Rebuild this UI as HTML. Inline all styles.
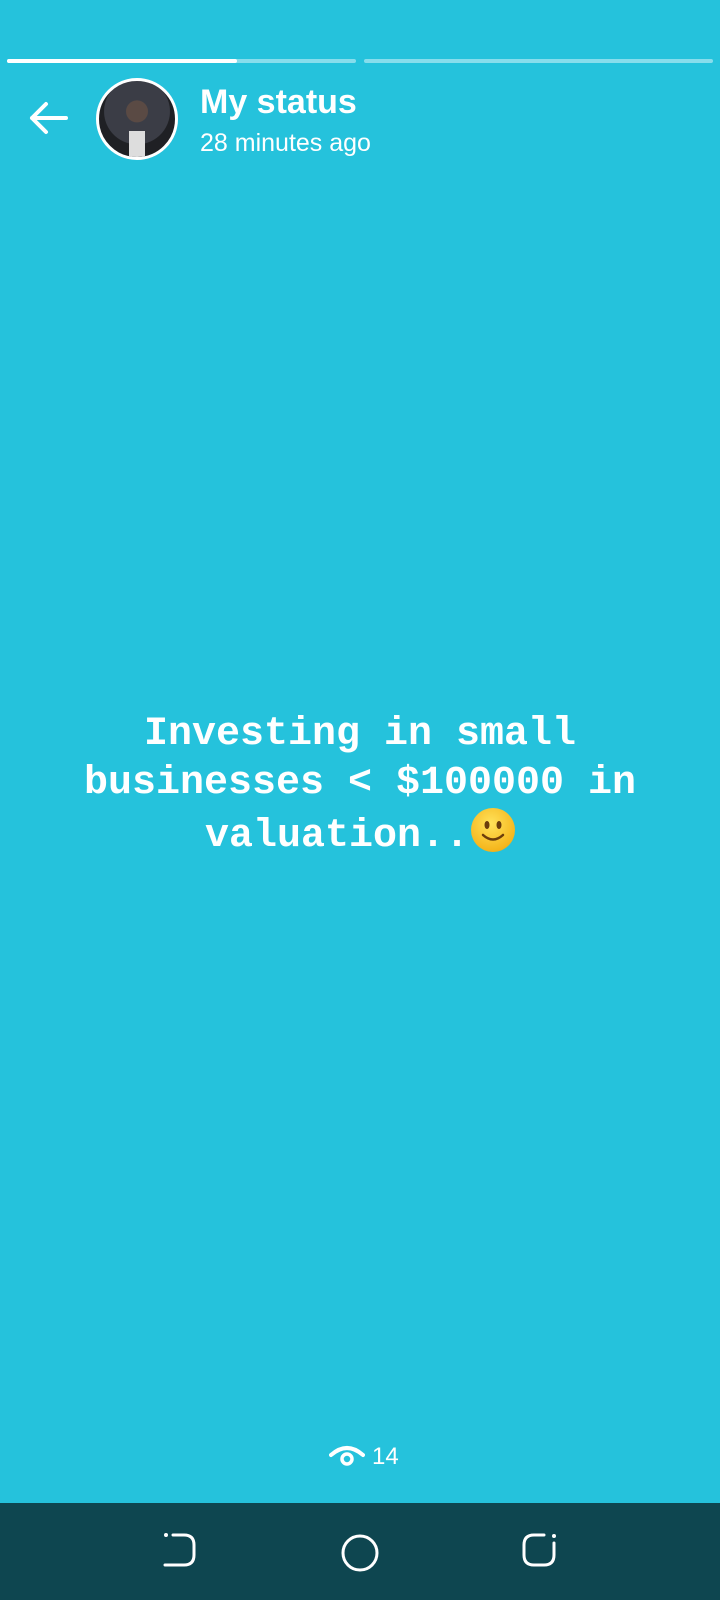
<!DOCTYPE html>
<html><head><meta charset="utf-8"><style>
html,body{margin:0;padding:0}
body{width:720px;height:1600px;background:#25c2dc;position:relative;overflow:hidden;font-family:"Liberation Sans",sans-serif;color:#fff}
.bar{position:absolute;top:59px;height:4px;border-radius:2px;background:rgba(255,255,255,.45)}
.main{position:absolute;left:0;width:720px;top:710px;text-align:center;font-family:"Liberation Mono",monospace;font-weight:bold;font-size:40px;line-height:49px}
.nav{position:absolute;left:0;top:1503px;width:720px;height:97px;background:#0e4650}
.emoji{display:inline-block;width:44px;height:44px;border-radius:50%;background:radial-gradient(circle at 45% 35%,#ffe25a,#f5b71e 70%,#e39a12);vertical-align:-6px;position:relative;margin-left:2px}
</style></head><body>
<div class="bar" style="left:7px;width:349px"><div style="width:230px;height:4px;border-radius:2px;background:#fff"></div></div>
<div class="bar" style="left:364px;width:349px"></div>
<svg style="position:absolute;left:26px;top:96px" width="44" height="44" viewBox="0 0 44 44"><path d="M40 22H6M20 8L6 22l14 14" stroke="#fff" stroke-width="4" fill="none" stroke-linecap="round" stroke-linejoin="round"/></svg>
<div style="position:absolute;left:96px;top:78px;width:76px;height:76px;border-radius:50%;border:3px solid #fff;background:radial-gradient(circle at 50% 40%,#5a4a44 0 18%,#3b3d46 19% 55%,#1f2024 56%);overflow:hidden"><div style="position:absolute;left:30px;top:50px;width:16px;height:30px;background:#ddd"></div></div>
<div style="position:absolute;left:200px;top:83px;font-size:34px;font-weight:bold">My status</div>
<div style="position:absolute;left:200px;top:129px;font-size:25px">28 minutes ago</div>
<div class="main">Investing in small<br>businesses &lt; $100000 in<br>valuation..<span class="emoji"><svg width="44" height="44" viewBox="0 0 44 44" style="position:absolute;left:0;top:0"><ellipse cx="16" cy="17" rx="2.5" ry="4" fill="#6b3d0c"/><ellipse cx="28" cy="17" rx="2.5" ry="4" fill="#6b3d0c"/><path d="M12 27Q22 36 32 27" stroke="#6b3d0c" stroke-width="2.5" fill="none" stroke-linecap="round"/></svg></span></div>
<svg style="position:absolute;left:329px;top:1443px" width="36" height="26" viewBox="0 0 36 26"><path d="M2 12Q18 -2 34 12" stroke="#fff" stroke-width="4" fill="none" stroke-linecap="round"/><circle cx="18" cy="16" r="5" stroke="#fff" stroke-width="3.5" fill="none"/></svg>
<div style="position:absolute;left:372px;top:1443px;font-size:24px">14</div>
<div class="nav">
<svg style="position:absolute;left:160px;top:28px" width="40" height="40"><circle cx="6" cy="4" r="2" fill="#fff"/><path d="M5 34H24Q34 34 34 24V14Q34 4 24 4H13" stroke="#fff" stroke-width="3" fill="none" stroke-linecap="round"/></svg>
<svg style="position:absolute;left:340px;top:30px" width="40" height="40"><circle cx="20" cy="20" r="17" stroke="#fff" stroke-width="3" fill="none"/></svg>
<svg style="position:absolute;left:520px;top:28px" width="40" height="40"><circle cx="34" cy="5" r="2" fill="#fff"/><path d="M24 4H14Q4 4 4 14V24Q4 34 14 34H24Q34 34 34 24V12" stroke="#fff" stroke-width="3" fill="none" stroke-linecap="round"/></svg>
</div>
</body></html>
